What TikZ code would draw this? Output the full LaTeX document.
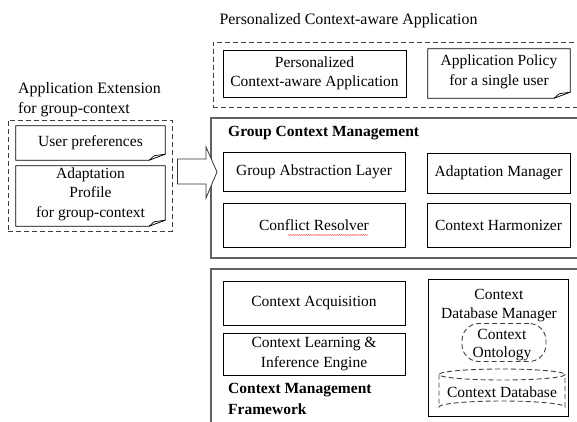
\documentclass[tikz,border=0pt]{standalone}
\usepackage{fontspec}
\setmainfont{Liberation Serif}
\usetikzlibrary{decorations.pathmorphing}

\tikzset{
  every node/.style={font=\fontsize{15.5}{19.5}\selectfont, inner sep=0pt},
  box/.style={draw=black, line width=0.8pt, align=center},
  frame/.style={draw=black!62, line width=1.3pt},
  dashbox/.style={draw=black!75, line width=0.9pt, dash pattern=on 5pt off 3pt},
  plain/.style={align=center},
  caption/.style={font=\fontsize{15.9}{19.5}\selectfont},
  heading/.style={font=\fontsize{15.5}{21}\selectfont\bfseries, align=left},
  notebody/.style={align=center},
  blockarrow/.style={draw=black!80, line width=0.8pt, fill=white, line join=miter},
}

\newcommand{\notesheet}[1]{%
  \draw[line width=0.8pt] (#1.north west) -- (#1.north east)
     -- ([yshift=6pt]#1.south east) -- ([xshift=-16pt]#1.south east)
     -- (#1.south west) -- cycle;
  \draw[line width=0.7pt] ([xshift=-16pt]#1.south east)
     -- ([xshift=-11pt,yshift=4.5pt]#1.south east)
     -- ([yshift=6pt]#1.south east);
}

\begin{document}
\begin{tikzpicture}[x=1pt,y=-1pt]
\useasboundingbox (0,0) rectangle (577,421);
\clip (0,0) rectangle (577,421);
\fill[white] (0,0) rectangle (577,421);

% ---------- top layer: personalized application ----------
\node[plain, caption] (toptitle) at (348.5,21) {Personalized Context-aware Application};
\node[dashbox, minimum width=380pt, minimum height=65pt] (appframe) at (403,74.5) {};
\node[box, minimum width=183pt, minimum height=47pt] (pcaa) at (314.5,73.5)
  {Personalized\\Context-aware Application};
\node[notebody, minimum width=142pt, minimum height=49pt] (policy) at (499,73.5) {};
\node[plain] (policytext) at (499,72) {Application Policy\\for a single user};
\notesheet{policy}

% ---------- middle layer: group context management ----------
\node[frame, minimum width=380pt, minimum height=140pt] (gcm) at (401,188) {};
\node[heading, anchor=west] (gcmtitle) at (228,133) {Group Context Management};
\node[box, minimum width=182pt, minimum height=39pt] (gal) at (314,171.5) {Group Abstraction Layer};
\node[box, minimum width=143pt, minimum height=40pt] (am) at (498.5,173) {Adaptation Manager};
\node[box, minimum width=182pt, minimum height=44pt] (cr) at (314,225) {Conflict Resolver};
\node[box, minimum width=143pt, minimum height=44pt] (ch) at (498.5,225) {Context Harmonizer};
\draw[red!70, line width=0.45pt, decorate,
      decoration={snake, amplitude=0.5pt, segment length=2.2pt}]
  ([xshift=-26pt,yshift=-10pt]cr.center) -- ([xshift=54pt,yshift=-10pt]cr.center);

% ---------- bottom layer: context management framework ----------
\node[frame, minimum width=380pt, minimum height=170pt] (cmf) at (401,354) {};
\node[box, minimum width=182pt, minimum height=44pt] (ca) at (314,303) {Context Acquisition};
\node[box, minimum width=182pt, minimum height=42pt] (cl) at (314,354)
  {Context Learning \&\\Inference Engine};
\node[heading, anchor=north west] (cmftitle) at (228,383) {Context Management\\Framework};
\node[box, minimum width=140pt, minimum height=137pt] (cdm) at (498,347.5) {};
\node[plain] (cdmtext) at (499,305.5) {Context\\Database Manager};
\node[dashbox, rounded corners=17pt, minimum width=84pt, minimum height=38pt] (onto) at (504,342.5) {};
\node[plain, font=\fontsize{15.5}{18}\selectfont] (ontotext) at (502,345) {Context\\Ontology};

% dashed storage cylinder
\node[plain] (cdb) at (502,392) {Context Database};
\draw[dashbox] (502,374.5) ellipse [x radius=63, y radius=5.5];
\draw[dashbox] (439,374.5) -- (439,407)
  arc[start angle=180, end angle=360, x radius=63, y radius=6]
  -- (565,374.5);

% ---------- left: application extension ----------
\node[anchor=west, align=left, caption] (exttitle) at (18,99.5) {Application Extension\\for group-context};
\node[dashbox, minimum width=164pt, minimum height=111pt] (ext) at (90,175.5) {};
\node[notebody, minimum width=149pt, minimum height=34pt] (up) at (90.5,143) {};
\node[plain] (uptext) at (90.5,143) {User preferences};
\notesheet{up}
\node[notebody, minimum width=149pt, minimum height=60pt] (ap) at (90.5,196) {};
\node[plain] (aptext) at (90.5,194) {Adaptation\\Profile\\for group-context};
\notesheet{ap}

% block arrow feeding the group layer
\coordinate (feedtip) at (217,172);
\draw[blockarrow] ([xshift=5pt]ext.east |- 0,159) -- (206,159) -- (206,147)
  -- (feedtip) -- (206,198) -- (206,184) -- ([xshift=5pt]ext.east |- 0,184) -- cycle;

\end{tikzpicture}
\end{document}
